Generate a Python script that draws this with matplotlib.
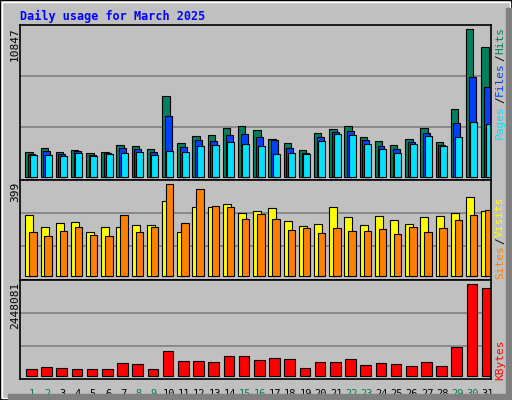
import matplotlib.pyplot as plt
import numpy as np

days = np.arange(1, 32)
hits = [1796, 2083, 1796, 1940, 1724, 1796, 2299, 2227, 2011, 5819, 2442, 2945, 3017, 3520, 3664, 3376,
        2730, 2442, 1940, 3161, 3448, 3664, 2873, 2586, 2299, 2730, 3520, 2514, 4885, 10632, 9339]
files = [1652, 1868, 1652, 1868, 1580, 1724, 2083, 2011, 1796, 4382, 2155, 2658, 2586, 3017, 3089, 2873,
         2658, 2083, 1724, 2873, 3232, 3304, 2658, 2227, 2011, 2514, 3161, 2299, 3879, 7183, 6465]
pages = [1580, 1580, 1508, 1724, 1508, 1652, 1724, 1796, 1580, 1868, 1796, 2227, 2299, 2514, 2370, 2227,
         1652, 1724, 1652, 2586, 3089, 3017, 2370, 2011, 1724, 2370, 2945, 2227, 2873, 3951, 3807]
visits = [246, 197, 214, 218, 177, 197, 197, 206, 206, 302, 177, 278, 278, 290, 254, 262,
          274, 222, 201, 210, 278, 238, 206, 242, 226, 210, 238, 242, 254, 318, 262]
sites = [177, 161, 181, 197, 165, 161, 246, 177, 197, 371, 214, 351, 282, 278, 230, 250,
         230, 185, 193, 173, 193, 181, 181, 189, 169, 197, 177, 193, 226, 246, 266]
kbytes = [158213, 208175, 183194, 158213, 158213, 158213, 308099, 283118, 158213, 607871, 358061,
          358061, 333080, 482966, 482966, 383042, 433004, 408023, 183194, 333080, 333080, 408023,
          258137, 308099, 283118, 233156, 333080, 233156, 707795, 2281598, 2181674]
weekend = [1, 2, 8, 9, 15, 16, 22, 23, 29, 30]

W, H = 512, 400
BG = '#C0C0C0'
mono = 'DejaVu Sans Mono'
lw = 0.8

fig = plt.figure(figsize=(W / 100, H / 100), dpi=100, facecolor=BG)

def panel(top, bottom):
    ax = fig.add_axes([20 / W, 1 - bottom / H, 471 / W, (bottom - top) / H])
    ax.set_facecolor(BG)
    ax.set_xlim(0.5, 31.5)
    ax.set_xticks([])
    ax.set_yticks([])
    for s in ax.spines.values():
        s.set_color('black')
        s.set_linewidth(1.2)
    return ax

# hits / files / pages
ax1 = panel(25, 180)
ax1.set_ylim(-215, 10918)
for g in (10847 / 3, 10847 * 2 / 3):
    ax1.axhline(g, color='#808080', lw=1.2, zorder=0)
ax1.bar(days - 0.15, hits, width=0.49, align='edge', color='#00805C', edgecolor='black', lw=lw)
ax1.bar(days + 0.03, files, width=0.46, align='edge', color='#0040FF', edgecolor='black', lw=lw)
ax1.bar(days + 0.14, pages, width=0.46, align='edge', color='#00E0FF', edgecolor='black', lw=lw)

# visits / sites
ax2 = panel(180, 280)
ax2.set_ylim(-15, 388)
for g in (121, 254):
    ax2.axhline(g, color='#808080', lw=1.2, zorder=0)
ax2.bar(days - 0.15, visits, width=0.53, align='edge', color='#FFFF00', edgecolor='black', lw=lw)
ax2.bar(days + 0.11, sites, width=0.49, align='edge', color='#FF8000', edgecolor='black', lw=lw)

# kbytes
ax3 = panel(280, 379)
ax3.set_ylim(-83270, 2389849)
for g in (741103, 1557149):
    ax3.axhline(g, color='#808080', lw=1.2, zorder=0)
ax3.bar(days - 0.1, kbytes, width=0.7, align='edge', color='#FF0000', edgecolor='black', lw=lw)

# day labels
for d in days:
    col = '#008040' if d in weekend else 'black'
    ax3.text(d + 0.3, -0.1, str(d), transform=ax3.get_xaxis_transform(), ha='center', va='top',
             fontsize=7.5, color=col, family=mono)

def ftext(x, y, s, **kw):
    fig.text(x / W, 1 - y / H, s, family=mono, **kw)

ftext(20, 16, 'Daily usage for March 2025', fontsize=8.5, fontweight='bold', color='#0000FF', va='center')
ftext(15, 27, '10847', rotation=90, fontsize=8, ha='center', va='top')
ftext(15, 182, '399', rotation=90, fontsize=8, ha='center', va='top')
ftext(15, 282, '2448081', rotation=90, fontsize=8, ha='center', va='top')

rk = dict(rotation=90, fontsize=8, ha='center', va='center')
ftext(500, 122, 'Pages', color='#00E0FF', **rk)
ftext(500, 100, '/', color='black', **rk)
ftext(500, 79, 'Files', color='#0040FF', **rk)
ftext(500, 58, '/', color='black', **rk)
ftext(500, 40, 'Hits', color='#00805C', **rk)
ftext(500, 262, 'Sites', color='#FF8000', **rk)
ftext(500, 241, '/', color='black', **rk)
ftext(500, 217, 'Visits', color='#FFFF00', **rk)
ftext(500, 360, 'KBytes', color='#FF0000', **rk)

# outer frame
fig.add_artist(plt.Rectangle((0, 0), 1, 1, transform=fig.transFigure, fill=False, ec='black', lw=1.5))
fig.add_artist(plt.Rectangle((2 / W, 2 / H), 1 - 4 / W, 1 - 4 / H, transform=fig.transFigure,
                             fill=False, ec='white', lw=1))
fig.add_artist(plt.Rectangle((506 / W, 0), 6 / W, 1 - 8 / H, transform=fig.transFigure, color='#808080'))
fig.add_artist(plt.Rectangle((8 / W, 0), 1 - 8 / W, 6 / H, transform=fig.transFigure, color='#808080'))

fig.savefig('out.png', dpi=100, facecolor=BG)
